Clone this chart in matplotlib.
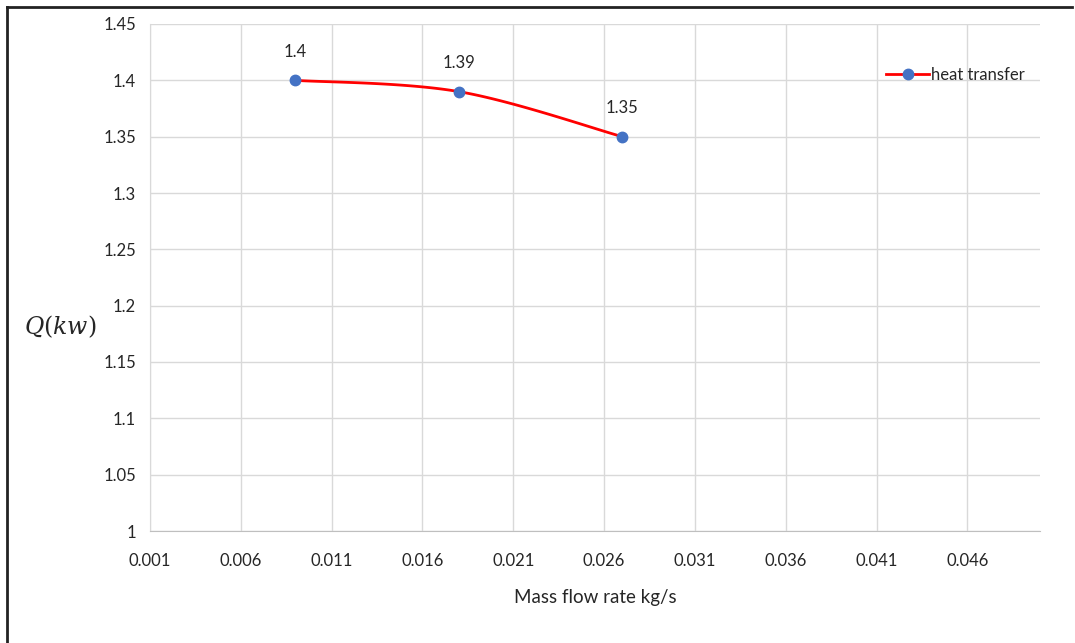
import numpy as np
import matplotlib
matplotlib.use("Agg")
import matplotlib.pyplot as plt
from matplotlib.lines import Line2D

# Measured data
mass_flow = [0.009, 0.018, 0.027]
heat_q = [1.40, 1.39, 1.35]
point_labels = ["1.4", "1.39", "1.35"]
x_ticks = [0.001, 0.006, 0.011, 0.016, 0.021, 0.026, 0.031, 0.036, 0.041, 0.046]
y_ticks = [1.0, 1.05, 1.1, 1.15, 1.2, 1.25, 1.3, 1.35, 1.4, 1.45]

plt.rcParams['font.family'] = ['Lato', 'DejaVu Sans']
plt.rcParams['mathtext.fontset'] = 'dejavuserif'


def smooth_curve(xs, ys, n=60):
    """Catmull-Rom spline through the points (smoothed line)."""
    pts = np.column_stack([xs, ys]).astype(float)
    ext = np.vstack([pts[0], pts, pts[-1]])
    out = []
    t = np.linspace(0, 1, n)[:, None]
    for i in range(1, len(ext) - 2):
        p0, p1, p2, p3 = ext[i - 1], ext[i], ext[i + 1], ext[i + 2]
        seg = 0.5 * ((2 * p1) + (-p0 + p2) * t +
                     (2 * p0 - 5 * p1 + 4 * p2 - p3) * t ** 2 +
                     (-p0 + 3 * p1 - 3 * p2 + p3) * t ** 3)
        out.append(seg)
    curve = np.vstack(out)
    return curve[:, 0], curve[:, 1]


fig = plt.figure(figsize=(10.75, 6.43), dpi=100)
ax = fig.add_axes([150 / 1075, 1 - 531 / 643, 890 / 1075, 507 / 643])

cx, cy = smooth_curve(mass_flow, heat_q)
ax.plot(cx, cy, color='#FF0000', lw=2.0, zorder=3)
ax.plot(mass_flow, heat_q, 'o', color='#4472C4', ms=7.5, zorder=4)

for x, y, lab in zip(mass_flow, heat_q, point_labels):
    ax.annotate(lab, (x, y), xytext=(0, 15), textcoords='offset points',
                ha='center', va='bottom', fontsize=12, color='#262626')

ax.set_xlim(0.001, 0.050)
ax.set_ylim(1.0, 1.45)
ax.set_xticks(x_ticks)
ax.set_xticklabels([f"{v:.3f}" for v in x_ticks])
ax.set_yticks(y_ticks)
ax.set_yticklabels([f"{v:g}" for v in y_ticks])
ax.tick_params(length=0, labelsize=12, colors='#262626')
ax.tick_params(axis='x', pad=16)
ax.tick_params(axis='y', pad=10)

ax.grid(True, color='#D9D9D9', lw=1.0)
ax.set_axisbelow(True)
for side in ['top', 'right']:
    ax.spines[side].set_visible(False)
ax.spines['left'].set_color('#D9D9D9')
ax.spines['bottom'].set_color('#BFBFBF')

ax.set_xlabel('Mass flow rate kg/s', fontsize=13.5, color='#262626', labelpad=14)
fig.text(60 / 1075, 1 - 327 / 643, r'$Q(kw)$', fontsize=17, ha='center', va='center',
         color='#262626')

handle = Line2D([], [], color='#FF0000', lw=2.0, marker='o', markersize=7.5,
                markerfacecolor='#4472C4', markeredgecolor='#4472C4')
ax.legend([handle], ['heat transfer'], loc='upper left', bbox_to_anchor=(0.81, 0.945),
          frameon=False, fontsize=12, handlelength=2.6, handletextpad=0.1,
          labelcolor='#262626')

# Outer frame edges
fig.add_artist(Line2D([7 / 1075, 7 / 1075], [0, 1 - 7 / 643], color='#222222', lw=2.0,
                      transform=fig.transFigure))
fig.add_artist(Line2D([7 / 1075, 1072 / 1075], [1 - 7 / 643, 1 - 7 / 643], color='#222222',
                      lw=2.0, transform=fig.transFigure))

fig.savefig('out.png', dpi=100)
